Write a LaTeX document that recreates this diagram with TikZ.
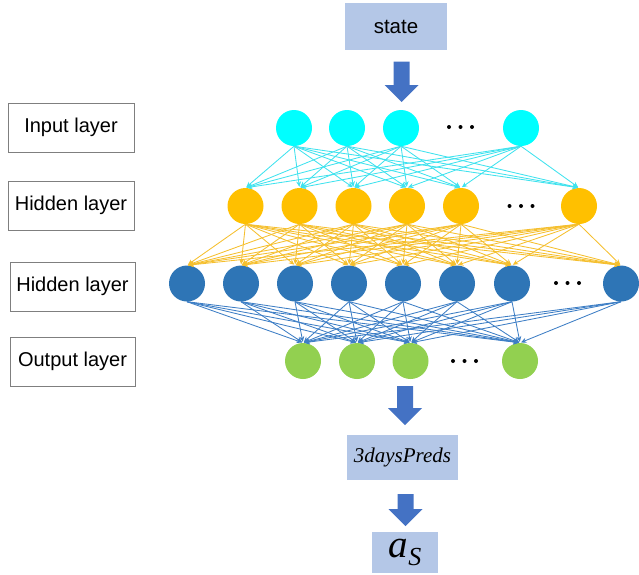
\documentclass[tikz,border=0pt]{standalone}
\usepackage{fontspec}
\setmainfont{Liberation Serif}
\newfontfamily\arialf{Liberation Sans}
\usetikzlibrary{arrows.meta}

\definecolor{inC}{HTML}{00FFFF}
\definecolor{inL}{HTML}{40E2EE}
\definecolor{hidA}{HTML}{FFC000}
\definecolor{hidAL}{HTML}{F5BF2E}
\definecolor{hidB}{HTML}{2E75B6}
\definecolor{hidBL}{HTML}{3D7EC5}
\definecolor{outC}{HTML}{92D050}
\definecolor{flowbox}{HTML}{B4C7E7}
\definecolor{flowarrow}{HTML}{4472C4}
\definecolor{boxline}{HTML}{7F7F7F}

% block arrow pointing down: centre x, top y, tip y
\newcommand{\blockarrow}[3]{%
  \fill[flowarrow] (#1-8,#2) -- (#1+8,#2) -- (#1+8,#3-17) -- (#1+17,#3-17)
    -- (#1,#3) -- (#1-17,#3-17) -- (#1-8,#3-17) -- cycle;}

\begin{document}
\begin{tikzpicture}[x=1pt,y=-1pt,
  neuron/.style={circle, minimum size=36pt, inner sep=0pt, draw=none},
  layerbox/.style={draw=boxline, line width=0.8pt, fill=white,
    minimum width=125pt, minimum height=49pt, inner sep=0pt,
    font=\arialf\fontsize{20}{23}\selectfont},
  flownode/.style={fill=flowbox, draw=none, inner sep=0pt},
  link/.style={line width=0.85pt, -{Stealth[length=5.5pt,width=5pt]}, shorten >=1pt},
  ddot/.style={fill=black}
]
\useasboundingbox (0,0) rectangle (639,574);

% layer captions
\node[layerbox, minimum width=126pt] (capin)  at (71,127.5)   {Input layer};
\node[layerbox, minimum width=126pt] (caph1)  at (71,205.5)   {Hidden layer};
\node[layerbox] (caph2)  at (72.5,286.5) {Hidden layer};
\node[layerbox] (capout) at (72.5,361.5) {Output layer};

% neurons
\foreach \x [count=\i] in {294,347,401,521}
  \node[neuron, fill=inC] (i\i) at (\x,128) {};
\foreach \x [count=\i] in {245.5,299.5,353.5,407,461,579}
  \node[neuron, fill=hidA] (o\i) at (\x,206) {};
\foreach \x [count=\i] in {187,241,295,349,403,457,512,621}
  \node[neuron, fill=hidB] (b\i) at (\x,283.5) {};
\foreach \x [count=\i] in {303,357,410.5,520}
  \node[neuron, fill=outC] (g\i) at (\x,361) {};

% ellipsis dots in each layer
\foreach \x/\y in {460.5/127, 521/206, 567.5/283, 464.5/361}
  \foreach \d in {-11.5,0,11.5}
    \fill[ddot] (\x+\d,\y) circle (2);

% full connections between consecutive layers
\foreach \a in {1,...,4}
  \foreach \b in {1,...,6}
    \draw[link, inL] (i\a.south) -- (o\b.north);
\foreach \a in {1,...,6}
  \foreach \b in {1,...,8}
    \draw[link, hidAL] (o\a.south) -- (b\b.north);
\foreach \a in {1,...,8}
  \foreach \b in {1,...,4}
    \draw[link, hidBL] (b\a.south) -- (g\b.north);

% input / output flow
\node[flownode, minimum width=102pt, minimum height=47pt,
  font=\arialf\fontsize{20.5}{23}\selectfont] (state) at (396,26.5) {state};
\node[flownode, minimum width=111pt, minimum height=45pt,
  font=\fontsize{21}{24}\selectfont\itshape] (preds) at (402.5,457.5) {3daysPreds};
\node[flownode, minimum width=66pt, minimum height=41pt] (act) at (405,552.5)
  {{\fontsize{39}{40}\selectfont\itshape a}\raisebox{-8pt}{\fontsize{26}{28}\selectfont\itshape S}};

\blockarrow{401.5}{61.5}{102}
\blockarrow{405}{386}{425}
\blockarrow{405.5}{494}{526}
\end{tikzpicture}
\end{document}
